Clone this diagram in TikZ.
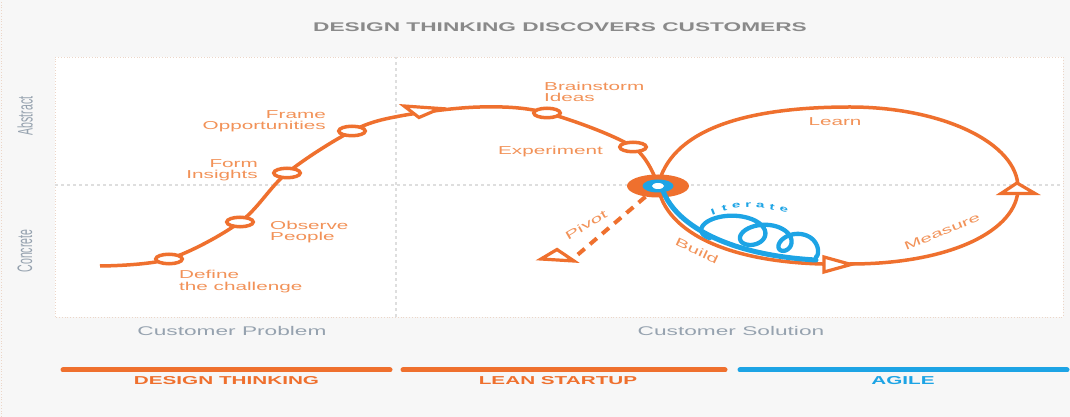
\documentclass[tikz,border=0pt]{standalone}
\usepackage{fontspec}
\setmainfont{Liberation Sans}[FakeStretch=1.8]
\newfontfamily\plainsans{Liberation Sans}
\usetikzlibrary{shapes.geometric,positioning,calc}
\definecolor{dtorange}{RGB}{239,112,46}
\definecolor{dtblue}{RGB}{29,164,229}
\definecolor{dtlabel}{RGB}{242,146,88}
\definecolor{dtgray}{RGB}{138,138,138}
\definecolor{dtaxis}{RGB}{150,162,175}
\definecolor{dtbg}{RGB}{247,247,247}
\definecolor{dtedge}{RGB}{236,214,200}

\begin{document}
\begin{tikzpicture}[x=1pt,y=1pt]
            \tikzset{
                journey/.style={draw=dtorange, line width=3.5pt},
                stage/.style={draw=dtorange, fill=white, ellipse, line width=3.5pt, minimum width=26.5pt, minimum height=9.5pt, inner sep=0pt},
                hub/.style={ellipse, fill=dtorange, inner sep=0pt},
                lbl/.style={text=dtlabel, font=\fontsize{11.5}{11.5}\selectfont, inner sep=1pt},
                marker/.style={draw=dtorange, fill=white, line width=3.2pt, line join=miter},
                pivotline/.style={draw=dtorange, line width=4pt, dash pattern=on 9pt off 7pt},
                iterline/.style={draw=dtblue, line width=4pt, line cap=round},
                iterlbl/.style={text=dtblue, font=\fontsize{8.5}{9}\selectfont\bfseries, inner sep=0pt},
                band/.style={line width=5pt, line cap=round},
                bandlbl/.style={font=\fontsize{11.5}{12}\selectfont\bfseries, inner sep=0pt},
                axislbl/.style={text=dtaxis, font=\fontsize{12.6}{13}\selectfont},
                panelrule/.style={draw=dtedge, line width=0.8pt, dotted},
                divider/.style={draw=black!13, line width=1.2pt, dash pattern=on 3pt off 3pt}
            }
            \useasboundingbox (0,0) rectangle (1070,417);
            \fill[dtbg] (0,0) rectangle (1070,417);
            \draw[panelrule] (1.5,0) -- (1.5,417);
            \fill[white] (55,100) rectangle (1063,360);
            \draw[panelrule] (55,100) rectangle (1063,360);
            \draw[divider] (396,100) -- (396,360);
            \draw[divider] (55,232) -- (1063,232);

            \node[text=dtgray, font=\fontsize{12.6}{13}\selectfont\bfseries] (title) at (560,390) {DESIGN THINKING DISCOVERS CUSTOMERS};
            \node[text=dtaxis, rotate=90] (abstract) at (25,301) {\plainsans\fontsize{10.5}{11}\selectfont\scalebox{1}[2]{Abstract}};
            \node[text=dtaxis, rotate=90] (concrete) at (25,166) {\plainsans\fontsize{10.5}{11}\selectfont\scalebox{1}[2]{Concrete}};
            \node[axislbl] (problem) at (232,86) {Customer Problem};
            \node[axislbl] (solution) at (731,86) {Customer Solution};

            \coordinate (c-start) at (100,151);
            \coordinate (c-define) at (169,158);
            \coordinate (c-observe) at (240,195);
            \coordinate (c-form) at (287,244);
            \coordinate (c-frame) at (352,286);
            \coordinate (c-rise) at (400,301);
            \coordinate (c-top) at (480,310);
            \coordinate (c-brain) at (547,304);
            \coordinate (c-exp) at (633,270);
            \coordinate (c-hub) at (658,231);
            \coordinate (c-low) at (850,153);
            \coordinate (c-right) at (1018,229);
            \coordinate (c-high) at (850,310);
            \coordinate (c-pivot) at (575,160);

            \draw[journey] plot[smooth, tension=0.55] coordinates {(c-start) (c-define) (c-observe) (c-form) (c-frame) (c-rise) (c-top) (c-brain) (c-exp) (c-hub)}
                .. controls (665,185) and (730,150) .. (c-low)
                .. controls (951,153) and (1018,187) .. (c-right)
                .. controls (1018,274) and (942,310) .. (c-high)
                .. controls (740,310) and (670,285) .. (c-hub);

            \draw[marker] (404,311) -- (440,308.5) -- (419,299.5) -- cycle;
            \draw[marker] (1001,223.5) -- (1035,223.5) -- (1017,234) -- cycle;
            \draw[marker] (824,160) -- (824,145) -- (851,152.5) -- cycle;
            \draw[marker] (541,158) -- (557,167.5) -- (574,156) -- cycle;

            \node[stage] (define) at (c-define) {};
            \node[stage] (observe) at (c-observe) {};
            \node[stage] (form) at (c-form) {};
            \node[stage] (frame) at (c-frame) {};
            \node[stage] (brain) at (c-brain) {};
            \node[stage] (exp) at (c-exp) {};

            \node[lbl, anchor=north west, align=left] (l-define) at (178,148) {Define\\the challenge};
            \node[lbl, anchor=west, align=left] (l-observe) at (269,185) {Observe\\People};
            \node[lbl, anchor=east, align=right] (l-form) at (259,247) {Form\\Insights};
            \node[lbl, anchor=east, align=right] (l-frame) at (327,296) {Frame\\Opportunities};
            \node[lbl, anchor=west, align=left] (l-brain) at (543,325) {Brainstorm\\Ideas};
            \node[lbl, anchor=east] (l-exp) at (604,265) {Experiment};
            \node[lbl] (l-learn) at (835,295) {Learn};
            \node[lbl, rotate=22] (l-measure) at (942,185) {Measure};
            \node[lbl, rotate=-25] (l-build) at (697,166) {Build};
            \node[lbl, rotate=30] (l-pivot) at (586,192) {\plainsans\fontsize{11.5}{11.5}\selectfont\scalebox{1.8}[1]{Pivot}};

            \node[hub, minimum width=62pt, minimum height=23pt] (hub) at (c-hub) {};
            \draw[pivotline] (hub) -- (c-pivot);
            \draw[iterline, line width=5pt] (662,229) .. controls (673,194) and (725,162) .. (816,157);
            \draw[iterline, line width=4.3pt] plot[domain=-0.18:2.78, samples=240, smooth, variable=\s]
                ({727+32.5*\s+(25-6.5*\s)*cos(180-360*\s)}, {190-7.5*\s+(13.5-1.6*\s)*sin(180-360*\s)});
            \node[hub, fill=dtblue, minimum width=31pt, minimum height=13pt] (hub-ring) at (hub) {};
            \node[hub, fill=white, minimum width=12pt, minimum height=6pt] (hub-core) at (hub) {};

            \foreach \ch [count=\i] in {I,t,e,r,a,t,e} {
                \pgfmathsetmacro\ang{111-(\i-1)*38/6}
                \pgfmathsetmacro\rot{\ang-90}
                \node[iterlbl, rotate=\rot] (iter-\i) at ($(752,103)+(\ang:109)$) {\ch};
            }

            \coordinate (dt-band) at (226.5,47);
            \coordinate (ls-band) at (564,47);
            \coordinate (ag-band) at (903,47);
            \draw[band, dtorange] (63,47) -- (390,47);
            \draw[band, dtorange] (403,47) -- (725,47);
            \draw[band, dtblue] (740,47) -- (1067,47);
            \node[bandlbl, text=dtorange, below=6pt of dt-band] (dt-lbl) {DESIGN THINKING};
            \node[bandlbl, text=dtorange, below=6pt of ls-band, xshift=-6pt] (ls-lbl) {LEAN STARTUP};
            \node[bandlbl, text=dtblue, below=6pt of ag-band] (ag-lbl) {AGILE};
        \end{tikzpicture}
\end{document}
